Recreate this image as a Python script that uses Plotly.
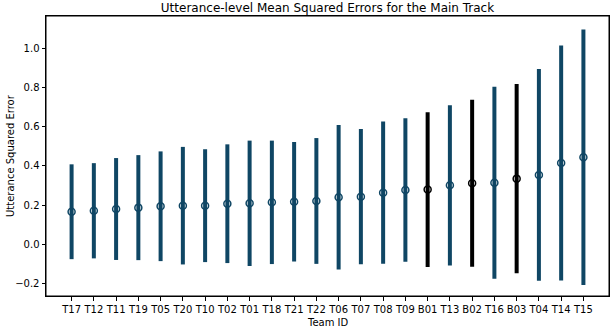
import plotly.graph_objects as go

teams = ["T17","T12","T11","T19","T05","T20","T10","T02","T01","T18","T21","T22",
         "T06","T07","T08","T09","B01","T13","B02","T16","B03","T04","T14","T15"]
means = [0.166,0.171,0.180,0.187,0.194,0.197,0.197,0.207,0.209,0.214,0.217,0.221,
         0.240,0.243,0.263,0.277,0.279,0.301,0.311,0.314,0.335,0.354,0.415,0.444]
stds = [0.242,0.243,0.260,0.268,0.280,0.300,0.288,0.303,0.320,0.315,0.305,0.321,
        0.369,0.345,0.363,0.366,0.395,0.409,0.426,0.490,0.483,0.540,0.600,0.652]

BLUE = "#0f4664"
BLACK = "#000000"

team_idx = [i for i, t in enumerate(teams) if t.startswith("T")]
base_idx = [i for i, t in enumerate(teams) if t.startswith("B")]

fig = go.Figure()
for idx, col, th in [(team_idx, BLUE, 4), (base_idx, BLACK, 4)]:
    fig.add_trace(go.Scatter(
        x=[teams[i] for i in idx],
        y=[means[i] for i in idx],
        mode="markers",
        marker=dict(symbol="circle-open", size=7, color=col, line=dict(width=1.5, color=col)),
        error_y=dict(type="data", array=[stds[i] for i in idx], visible=True,
                     color=col, thickness=th, width=0),
        showlegend=False,
    ))

font = "DejaVu Sans, sans-serif"
L, R, T, B = 46, 5, 16, 32
fig.update_layout(
    width=614, height=328,
    margin=dict(l=L, r=R, t=T, b=B, autoexpand=False),
    paper_bgcolor="white", plot_bgcolor="white",
    font=dict(family=font, size=10, color="black"),
    title=dict(text="Utterance-level Mean Squared Errors for the Main Track",
               x=(L + 614 - R) / 2 / 614, xanchor="center", y=1 - 8 / 328, yanchor="middle",
               font=dict(size=12, family=font)),
    xaxis=dict(type="category", categoryorder="array", categoryarray=teams,
               range=[-1.15, 24.15], showgrid=False, zeroline=False, automargin=False,
               showline=True, linecolor="black", linewidth=1, mirror=True,
               ticks="outside", ticklen=3.5, tickcolor="black",
               tickfont=dict(size=10)),
    yaxis=dict(range=[-0.264, 1.165], tickvals=[-0.2, 0.0, 0.2, 0.4, 0.6, 0.8, 1.0],
               ticktext=["\u22120.2", "0.0", "0.2", "0.4", "0.6", "0.8", "1.0"],
               showgrid=False, zeroline=False, automargin=False,
               showline=True, linecolor="black", linewidth=1, mirror=True,
               ticks="outside", ticklen=3.5, tickcolor="black",
               tickfont=dict(size=10)),
    shapes=[dict(type="rect", xref="paper", yref="paper", x0=0, x1=1, y0=0, y1=1,
                 line=dict(color="black", width=1), fillcolor="rgba(0,0,0,0)", layer="above")],
    annotations=[
        dict(text="Team ID", xref="paper", yref="paper", x=0.5, y=-(322 - (328 - B)) / (328 - T - B),
             xanchor="center", yanchor="middle", showarrow=False, font=dict(size=10)),
        dict(text="Utterance Squared Error", xref="paper", yref="paper",
             x=-(L - 10) / (614 - L - R), y=0.5, textangle=-90,
             xanchor="center", yanchor="middle", showarrow=False, font=dict(size=10)),
    ],
)

fig.write_html("out.html", config={"displayModeBar": False},
               post_script="document.body.style.margin='0px';document.body.style.overflow='hidden';")
